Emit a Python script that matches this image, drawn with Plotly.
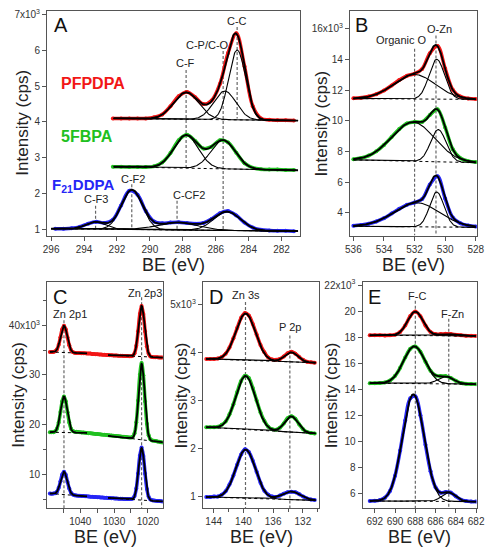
import numpy as np
import plotly.graph_objects as go

RED = "rgb(242,22,22)"
GREEN = "rgb(32,192,32)"
BLUE = "rgb(38,38,246)"
FONT = "Liberation Sans, Arial, sans-serif"

# ---------------- panel A : C 1s ----------------
a_be = np.arange(292.25, 281.0, -0.5)
a_be_blue = np.arange(295.75, 281.0, -0.5)
a_red = [4.10, 4.10, 4.10, 4.10, 4.10, 4.13, 4.21, 4.44, 4.72, 4.84, 4.69, 4.50,
         4.60, 5.06, 5.93, 6.48, 5.55, 4.44, 4.10, 4.06, 4.05, 4.05, 4.04]
a_green = [2.75, 2.75, 2.74, 2.74, 2.74, 2.76, 2.87, 3.13, 3.49, 3.64, 3.47, 3.26,
           3.31, 3.49, 3.43, 3.14, 2.85, 2.72, 2.68, 2.67, 2.67, 2.66, 2.66]
a_blue = [1.02, 1.02, 1.03, 1.07, 1.16, 1.21, 1.18, 1.27, 1.67, 2.08, 1.97, 1.51,
          1.22, 1.17, 1.19, 1.20, 1.18, 1.16, 1.18, 1.29, 1.45, 1.51, 1.39, 1.19,
          1.05, 0.99, 0.97, 0.96, 0.96, 0.95]
# fitted components: (centre eV, height, FWHM eV)
a_red_peaks = [(287.8, 0.75, 1.8), (285.45, 0.80, 1.6), (284.7, 1.95, 1.2)]
a_green_peaks = [(287.8, 0.92, 1.75), (285.55, 0.80, 1.75)]
a_blue_peaks = [(293.3, 0.20, 1.4), (291.1, 1.10, 1.5), (288.3, 0.21, 2.8), (285.3, 0.52, 1.9)]
# fit window + linear background: (BE from, BE to, I from, I to)
a_red_bg = [(292.2, 281.0, 4.10, 4.04)]
a_green_bg = [(292.2, 281.0, 2.75, 2.65)]
a_blue_bg = [(296.0, 281.0, 1.02, 0.95)]
a_tags = ["C-F", "C-P/C-O", "C-C", "C-F3", "C-F2", "C-CF2"]
a_tag_be = [287.8, 285.55, 284.7, 293.3, 291.1, 288.35]
a_tag_x = [287.83, 286.48, 284.7, 293.3, 291.05, 287.62]
a_tag_y = [5.64, 6.15, 6.82, 1.84, 2.41, 1.95]
a_tag_top = [5.45, 5.98, 6.65, 1.66, 2.26, 1.80]
a_tag_bottom = [2.67, 0.98, 4.10, 0.98, 0.98, 0.98]

# ---------------- panel B : O 1s ----------------
b_be = np.arange(536.0, 527.9, -0.5)
b_red = [11.47, 11.51, 11.59, 11.74, 11.98, 12.31, 12.66, 12.94, 13.08, 13.39,
         14.41, 14.88, 13.41, 12.02, 11.58, 11.46, 11.42]
b_green = [7.50, 7.57, 7.73, 8.01, 8.43, 8.95, 9.46, 9.83, 9.93, 9.93, 10.38,
           10.75, 9.57, 8.14, 7.56, 7.37, 7.31]
b_blue = [3.15, 3.20, 3.28, 3.43, 3.65, 3.95, 4.26, 4.52, 4.67, 4.90, 5.84,
          6.38, 4.93, 3.69, 3.31, 3.17, 3.10]
b_red_peaks = [(532.0, 1.60, 3.2), (530.55, 2.60, 1.2)]
b_green_peaks = [(532.1, 2.55, 3.3), (530.45, 2.10, 1.2)]
b_blue_peaks = [(531.85, 1.57, 3.5), (530.55, 2.28, 1.1)]
b_red_bg = [(536.0, 528.0, 11.45, 11.40)]
b_green_bg = [(536.0, 528.0, 7.45, 7.27)]
b_blue_bg = [(536.0, 528.0, 3.12, 3.05)]
b_tags = ["Organic O", "O-Zn"]
b_tag_be = [532.0, 530.6]
b_tag_x = [532.87, 530.36]
b_tag_y = [15.25, 16.0]
b_tag_top = [14.7, 15.57]
b_tag_bottom = [2.51, 2.51]

# ---------------- panel C : Zn 2p ----------------
c_be = np.linspace(1049.0, 1015.6, 65)
c_red = [34.62, 34.62, 34.63, 34.74, 35.12, 36.05, 37.59, 39.21, 39.91, 39.18,
         37.54, 35.96, 35.01, 34.59, 34.46, 34.41, 34.40, 34.39, 34.37, 34.36,
         34.34, 34.33, 34.31, 34.30, 34.20, 34.20, 34.17, 34.15, 34.12, 34.10,
         34.08, 34.05, 34.03, 34.00, 33.98, 33.95, 33.93, 33.90, 33.89, 33.87,
         33.86, 33.84, 33.82, 33.81, 33.79, 33.78, 33.78, 33.88, 34.37, 35.86,
         38.80, 42.27, 43.87, 42.24, 38.74, 35.77, 34.25, 33.73, 33.60, 33.57,
         33.55, 33.54, 33.52, 33.51, 33.50]
c_green = [18.47, 18.48, 18.49, 18.65, 19.17, 20.44, 22.52, 24.72, 25.68, 24.71,
           22.51, 20.42, 19.18, 18.70, 18.59, 18.55, 18.51, 18.48, 18.44, 18.40,
           18.36, 18.33, 18.29, 18.25, 18.21, 18.18, 18.14, 18.10, 18.06, 18.03,
           17.99, 17.95, 17.91, 17.88, 17.84, 17.80, 17.76, 17.73, 17.69, 17.65,
           17.61, 17.58, 17.54, 17.50, 17.46, 17.43, 17.42, 17.55, 18.26, 20.46,
           24.85, 30.02, 32.40, 29.92, 24.65, 20.16, 17.86, 17.05, 16.83, 16.75,
           16.70, 16.62, 16.55, 16.48, 16.40]
c_blue = [6.15, 6.12, 6.13, 6.21, 6.51, 7.29, 8.59, 9.96, 10.54, 9.90,
          8.47, 7.13, 6.29, 5.93, 5.80, 5.74, 5.71, 5.69, 5.66, 5.63,
          5.60, 5.57, 5.54, 5.51, 5.49, 5.46, 5.43, 5.40, 5.38, 5.35,
          5.33, 5.30, 5.28, 5.25, 5.23, 5.20, 5.18, 5.15, 5.13, 5.10,
          5.09, 5.08, 5.06, 5.05, 5.04, 5.03, 5.03, 5.14, 5.64, 7.16,
          10.19, 13.75, 15.40, 13.71, 10.11, 7.04, 5.48, 4.94, 4.78, 4.73,
          4.69, 4.66, 4.62, 4.59, 4.55]
c_red_peaks = [(1044.83, 5.4, 2.3), (1021.86, 10.2, 2.1)]
c_green_peaks = [(1044.83, 7.26, 2.3), (1021.86, 15.3, 2.1)]
c_blue_peaks = [(1044.83, 4.6, 2.3), (1021.86, 10.5, 2.1)]
# two fit windows (2p1 and 2p3)
c_red_bg = [(1049.0, 1038.0, 34.62, 34.33), (1031.8, 1015.6, 34.00, 33.50)]
c_green_bg = [(1049.0, 1038.0, 18.47, 18.33), (1031.8, 1015.6, 17.75, 16.45)]
c_blue_bg = [(1049.0, 1038.0, 6.15, 5.57), (1031.8, 1015.6, 5.25, 4.55)]
c_tags = ["Zn 2p1", "Zn 2p3"]
c_tag_be = [1044.83, 1021.86]
c_tag_x = [1043.05, 1021.0]
c_tag_y = [42.25, 46.56]
c_tag_top = [41.0, 45.6]
c_tag_bottom = [3.23, 3.23]

# ---------------- panel D : Zn 3s / P 2p ----------------
d_be = np.linspace(145.0, 130.4, 29)
d_red = [3.87, 3.87, 3.87, 3.88, 3.91, 3.98, 4.11, 4.30, 4.52, 4.73, 4.83, 4.78,
         4.60, 4.38, 4.16, 4.01, 3.90, 3.86, 3.85, 3.87, 3.92, 3.99, 4.02, 3.98,
         3.91, 3.85, 3.81, 3.80, 3.79]
d_green = [2.44, 2.44, 2.44, 2.45, 2.49, 2.56, 2.71, 2.92, 3.18, 3.41, 3.52, 3.47,
           3.26, 3.00, 2.75, 2.57, 2.45, 2.40, 2.39, 2.43, 2.52, 2.63, 2.67, 2.62,
           2.50, 2.40, 2.34, 2.32, 2.31]
d_blue = [0.98, 0.98, 0.99, 0.99, 1.03, 1.10, 1.24, 1.43, 1.66, 1.87, 1.98, 1.92,
          1.74, 1.51, 1.28, 1.11, 1.03, 0.99, 0.98, 1.01, 1.05, 1.08, 1.09, 1.08,
          1.04, 0.99, 0.95, 0.93, 0.92]
d_red_peaks = [(139.7, 0.98, 3.1), (133.55, 0.20, 2.1)]
d_green_peaks = [(139.7, 1.12, 3.1), (133.55, 0.33, 2.1)]
d_blue_peaks = [(139.7, 1.02, 3.1), (133.55, 0.17, 2.9)]
d_red_bg = [(145.0, 130.3, 3.87, 3.79)]
d_green_bg = [(145.0, 130.3, 2.44, 2.31)]
d_blue_bg = [(145.0, 130.3, 0.98, 0.91)]
d_tags = ["Zn 3s", "P 2p"]
d_tag_be = [139.72, 133.75]
d_tag_x = [139.68, 133.74]
d_tag_y = [5.21, 4.54]
d_tag_top = [5.06, 4.36]
d_tag_bottom = [0.75, 0.75]

# ---------------- panel E : F 1s ----------------
e_be = np.arange(692.5, 681.9, -0.5)
e_red = [18.15, 18.15, 18.15, 18.14, 18.15, 18.20, 18.41, 18.91, 19.62, 19.97, 19.61,
         18.90, 18.41, 18.24, 18.24, 18.27, 18.25, 18.20, 18.15, 18.12, 18.11, 18.10]
e_green = [14.48, 14.48, 14.49, 14.54, 14.68, 15.04, 15.66, 16.45, 17.11, 17.30, 16.88,
           16.13, 15.43, 15.07, 15.02, 15.02, 14.88, 14.66, 14.49, 14.43, 14.41, 14.40]
e_blue = [5.45, 5.46, 5.52, 5.70, 6.22, 7.39, 9.31, 11.61, 13.32, 13.48, 12.03,
          9.76, 7.73, 6.49, 6.08, 6.13, 6.09, 5.81, 5.55, 5.44, 5.40, 5.40]
e_red_peaks = [(688.0, 1.84, 1.8), (684.8, 0.15, 2.0)]
e_green_peaks = [(688.1, 2.86, 2.5), (685.0, 0.56, 1.8)]
e_blue_peaks = [(688.2, 8.2, 2.5), (684.7, 0.68, 1.6)]
e_red_bg = [(692.5, 682.0, 18.15, 18.10)]
e_green_bg = [(692.5, 682.0, 14.48, 14.40)]
e_blue_bg = [(692.5, 682.0, 5.45, 5.40)]
e_tags = ["F-C", "F-Zn"]
e_tag_be = [688.0, 684.7]
e_tag_x = [687.83, 684.3]
e_tag_y = [21.14, 19.8]
e_tag_top = [20.8, 19.42]
e_tag_bottom = [4.91, 4.91]


def gauss(x, c, h, w):
    return h * np.exp(-4 * np.log(2) * (x - c) ** 2 / w ** 2)


fig = go.Figure()


def add_spectrum(xa, ya, be, inten, color, peaks, windows):
    assert len(be) == len(inten)
    fig.add_trace(go.Scatter(x=be, y=inten, xaxis=xa, yaxis=ya, mode="lines+markers",
                             line=dict(color=color, width=3.5, shape="spline"),
                             marker=dict(color=color, size=4), hoverinfo="skip"))
    for x0, x1, y0, y1 in windows:
        x = np.linspace(x0, x1, 300)
        base = y0 + (y1 - y0) * (x - x0) / (x1 - x0)
        inside = [p for p in peaks if min(x0, x1) <= p[0] <= max(x0, x1)]
        fig.add_trace(go.Scatter(x=x, y=base, xaxis=xa, yaxis=ya, mode="lines",
                                 line=dict(color="black", width=1, dash="dot"), hoverinfo="skip"))
        total = base.copy()
        for c, h, w in inside:
            g = gauss(x, c, h, w)
            total += g
            if len(inside) > 1:
                fig.add_trace(go.Scatter(x=x, y=base + g, xaxis=xa, yaxis=ya, mode="lines",
                                         line=dict(color="black", width=1.1), hoverinfo="skip"))
        fig.add_trace(go.Scatter(x=x, y=total, xaxis=xa, yaxis=ya, mode="lines",
                                 line=dict(color="black", width=1.8), hoverinfo="skip"))


def add_tags(xa, ya, tags, be, tx, ty, top, bottom):
    for i, t in enumerate(tags):
        fig.add_trace(go.Scatter(x=[be[i], be[i]], y=[top[i], bottom[i]], xaxis=xa, yaxis=ya,
                                 mode="lines", line=dict(color="#666", width=1.2, dash="3px,2px"),
                                 hoverinfo="skip"))
        fig.add_annotation(x=tx[i], y=ty[i], xref=xa, yref=ya, text=t, showarrow=False,
                           xanchor="center", yanchor="middle",
                           font=dict(size=11, color="#222"))


panels = [
    ("x", "y", [(a_be, a_red, RED, a_red_peaks, a_red_bg),
                (a_be, a_green, GREEN, a_green_peaks, a_green_bg),
                (a_be_blue, a_blue, BLUE, a_blue_peaks, a_blue_bg)],
     (a_tags, a_tag_be, a_tag_x, a_tag_y, a_tag_top, a_tag_bottom)),
    ("x2", "y2", [(b_be, b_red, RED, b_red_peaks, b_red_bg),
                  (b_be, b_green, GREEN, b_green_peaks, b_green_bg),
                  (b_be, b_blue, BLUE, b_blue_peaks, b_blue_bg)],
     (b_tags, b_tag_be, b_tag_x, b_tag_y, b_tag_top, b_tag_bottom)),
    ("x3", "y3", [(c_be, c_red, RED, c_red_peaks, c_red_bg),
                  (c_be, c_green, GREEN, c_green_peaks, c_green_bg),
                  (c_be, c_blue, BLUE, c_blue_peaks, c_blue_bg)],
     (c_tags, c_tag_be, c_tag_x, c_tag_y, c_tag_top, c_tag_bottom)),
    ("x4", "y4", [(d_be, d_red, RED, d_red_peaks, d_red_bg),
                  (d_be, d_green, GREEN, d_green_peaks, d_green_bg),
                  (d_be, d_blue, BLUE, d_blue_peaks, d_blue_bg)],
     (d_tags, d_tag_be, d_tag_x, d_tag_y, d_tag_top, d_tag_bottom)),
    ("x5", "y5", [(e_be, e_red, RED, e_red_peaks, e_red_bg),
                  (e_be, e_green, GREEN, e_green_peaks, e_green_bg),
                  (e_be, e_blue, BLUE, e_blue_peaks, e_blue_bg)],
     (e_tags, e_tag_be, e_tag_x, e_tag_y, e_tag_top, e_tag_bottom)),
]

for xa, ya, specs, tags in panels:
    add_tags(xa, ya, *tags)
    for be, inten, color, peaks, windows in specs:
        add_spectrum(xa, ya, be, inten, color, peaks, windows)


def axis(domain, rng, anchor, **kw):
    d = dict(domain=domain, range=rng, anchor=anchor, showline=True, mirror=True,
             linecolor="#555", linewidth=1.3, ticks="outside", ticklen=4, tickwidth=1,
             tickcolor="#555", tickfont=dict(size=10, color="#333", family=FONT),
             showgrid=False, zeroline=False)
    d.update(kw)
    return d


def exp_label(v):
    return '%sx10<sup>3</sup>' % v


W, H = 496, 550
top_y = [1 - 233.3 / H, 1 - 6.7 / H]
bot_y = [1 - 507.7 / H, 1 - 280.5 / H]

fig.update_layout(
    width=W, height=H, margin=dict(l=0, r=0, t=0, b=0),
    paper_bgcolor="white", plot_bgcolor="white", showlegend=False,
    font=dict(family=FONT, color="#222"),
    xaxis=axis([43.3 / W, 303.3 / W], [296.24, 280.86], "y", dtick=2),
    yaxis=axis(top_y, [0.826, 7.11], "x", tickvals=[1, 2, 3, 4, 5, 6, 7],
               ticktext=["1", "2", "3", "4", "5", "6", exp_label(7)]),
    xaxis2=axis([354.3 / W, 485.0 / W], [536.22, 527.9], "y2", dtick=2),
    yaxis2=axis(top_y, [2.51, 17.19], "x2", tickvals=[4, 6, 8, 10, 12, 14, 16],
                ticktext=["4", "6", "8", "10", "12", "14", exp_label(16)]),
    xaxis3=axis([43.3 / W, 162.0 / W], [1049.8, 1015.6], "y3", tickvals=[1020, 1030, 1040],
                minor=dict(ticks="outside", ticklen=4, tickcolor="#555", dtick=5)),
    yaxis3=axis(bot_y, [3.23, 48.6], "x3", tickvals=[10, 20, 30, 40],
                ticktext=["10", "20", "30", exp_label(40)],
                minor=dict(ticks="outside", ticklen=3, tickcolor="#555", dtick=5)),
    xaxis4=axis([203.3 / W, 322.3 / W], [145.44, 129.85], "y4", tickvals=[132, 136, 140, 144],
                minor=dict(ticks="outside", ticklen=3, tickcolor="#555", dtick=2)),
    yaxis4=axis(bot_y, [0.75, 5.47], "x4", tickvals=[1, 2, 3, 4, 5],
                ticktext=["1", "2", "3", "4", exp_label(5)]),
    xaxis5=axis([367.3 / W, 484.3 / W], [693.2, 681.95], "y5", dtick=2),
    yaxis5=axis(bot_y, [4.91, 22.2], "x5", tickvals=[6, 8, 10, 12, 14, 16, 18, 20, 22],
                ticktext=["6", "8", "10", "12", "14", "16", "18", "20", exp_label(22)]),
)

# sample names in panel A
fig.add_annotation(x=295.55, y=5.08, xref="x", yref="y", text="PFPDPA", xanchor="left",
                   yanchor="middle", showarrow=False,
                   font=dict(size=16, color=RED, family=FONT, weight="bold"))
fig.add_annotation(x=295.55, y=3.59, xref="x", yref="y", text="5FBPA", xanchor="left",
                   yanchor="middle", showarrow=False,
                   font=dict(size=16, color=GREEN, family=FONT, weight="bold"))
fig.add_annotation(x=296.05, y=2.23, xref="x", yref="y", text="F<sub>21</sub>DDPA", xanchor="left",
                   yanchor="middle", showarrow=False,
                   font=dict(size=15, color=BLUE, family=FONT, weight="bold"))

# panel letters
for letter, px, py in [("A", 48, 8), ("B", 357, 8), ("C", 47, 282), ("D", 207, 282), ("E", 371, 282)]:
    fig.add_annotation(x=px / W, y=1 - py / H, xref="paper", yref="paper", text=letter,
                       xanchor="left", yanchor="top", showarrow=False,
                       font=dict(size=20, color="#111", family=FONT))

# axis titles
for px in [18, 325]:
    fig.add_annotation(x=px / W, y=1 - 120 / H, xref="paper", yref="paper", text="Intensity (cps)",
                       textangle=-90, xanchor="center", yanchor="middle", showarrow=False,
                       font=dict(size=17, color="#222"))
for px in [13, 181, 335]:
    fig.add_annotation(x=px / W, y=1 - 394 / H, xref="paper", yref="paper", text="Intensity (cps)",
                       textangle=-90, xanchor="center", yanchor="middle", showarrow=False,
                       font=dict(size=17, color="#222"))
for px, py in [(173, 263), (419, 263), (103, 537), (263, 537), (426, 537)]:
    fig.add_annotation(x=px / W, y=1 - py / H, xref="paper", yref="paper", text="BE (eV)",
                       xanchor="center", yanchor="middle", showarrow=False,
                       font=dict(size=18, color="#222"))

fig.write_html("out.html", config={"displayModeBar": False},
               post_script="document.body.style.margin='0px';")
